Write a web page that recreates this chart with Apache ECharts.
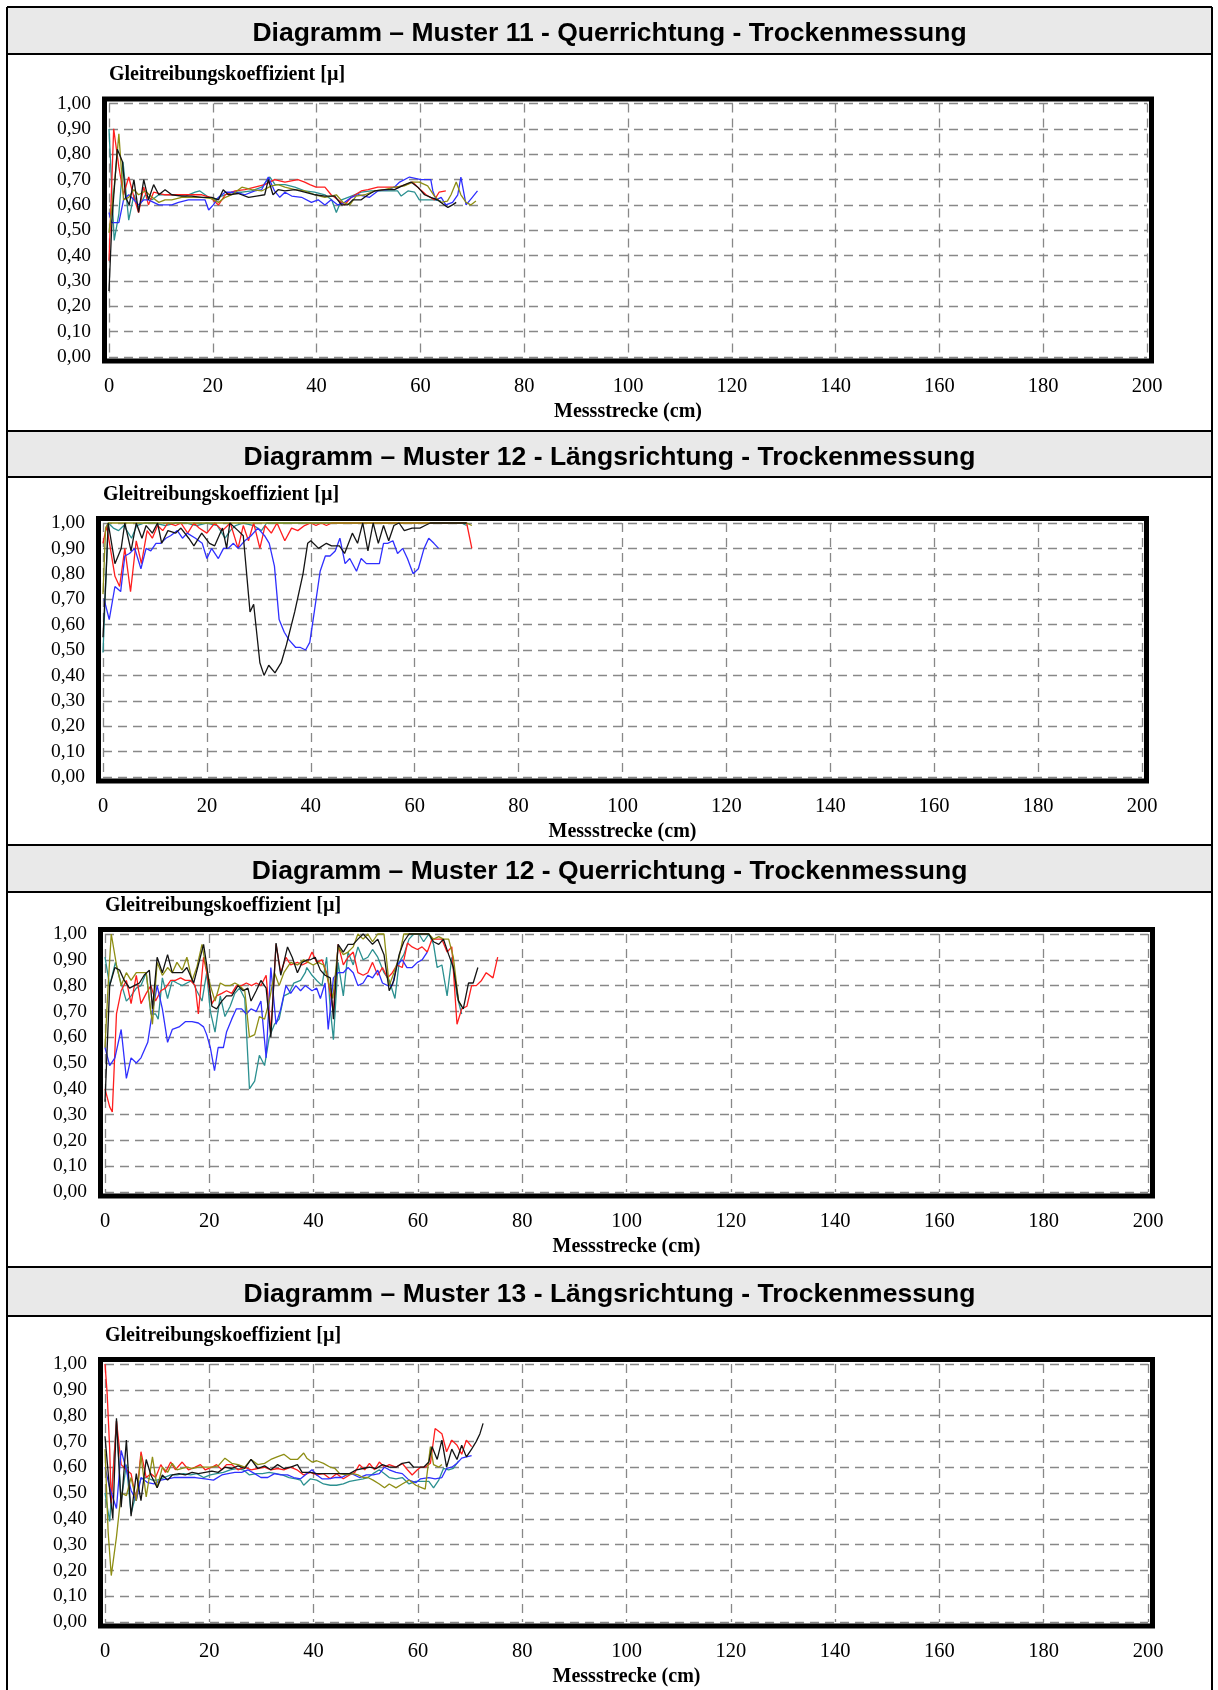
<!DOCTYPE html>
<html><head><meta charset="utf-8">
<script src="https://cdn.jsdelivr.net/npm/echarts@6/dist/echarts.min.js"></script>
<style>html,body{margin:0;padding:0;background:#fff;}#c{width:1218px;height:1690px;}</style>
</head><body><div id="c"></div>
<script>
// ---------- texts / ticks ----------
const panelTitles = [
  'Diagramm – Muster 11 - Querrichtung - Trockenmessung',
  'Diagramm – Muster 12 - Längsrichtung - Trockenmessung',
  'Diagramm – Muster 12 - Querrichtung - Trockenmessung',
  'Diagramm – Muster 13 - Längsrichtung - Trockenmessung'
];
const yAxisName = 'Gleitreibungskoeffizient [µ]';
const xAxisName = 'Messstrecke (cm)';
const xTickLabels = ['0','20','40','60','80','100','120','140','160','180','200'];
const yTickLabels = ['0,00','0,10','0,20','0,30','0,40','0,50','0,60','0,70','0,80','0,90','1,00'];
const measureNames = ['Messung 1','Messung 2','Messung 3','Messung 4','Messung 5'];

// ---------- data: [Messstrecke cm, µ] ----------
// Muster 11 Querrichtung
const m11q_red = [[0,0.38],[0.9,0.90],[1.9,0.75],[2.8,0.64],[3.8,0.71],[4.8,0.63],[5.7,0.57],[6.7,0.67],[7.6,0.60],[8.6,0.65],[10.8,0.64],[13.4,0.64],[16,0.64],[17.9,0.64],[19.5,0.63],[21.1,0.60],[22.4,0.64],[24.3,0.655],[26.2,0.66],[28.1,0.67],[30,0.68],[31.9,0.70],[33.9,0.69],[36.4,0.70],[37.7,0.69],[38.7,0.68],[39.9,0.67],[41.6,0.67],[42.8,0.64],[44.1,0.62],[45.4,0.60],[46.7,0.63],[48.6,0.655],[49.9,0.66],[51.8,0.67],[53.7,0.67],[55.6,0.67],[57.2,0.68],[58.5,0.69],[59.5,0.67],[61.1,0.64],[62.7,0.62],[63.6,0.65],[64.9,0.655]];
const m11q_blue = [[0,0.57],[0.5,0.53],[1.9,0.53],[2.8,0.62],[3.8,0.64],[4.8,0.62],[5.7,0.60],[6.7,0.62],[7.6,0.62],[8.6,0.61],[9.6,0.60],[10.8,0.60],[12.1,0.60],[13.4,0.61],[15.3,0.62],[17.2,0.62],[18.5,0.62],[19.2,0.58],[20.1,0.60],[21.1,0.63],[22.4,0.65],[24.3,0.65],[26.2,0.64],[28.1,0.655],[29.4,0.66],[30.7,0.71],[31.9,0.655],[32.9,0.63],[33.9,0.65],[35.2,0.635],[37.1,0.63],[39,0.61],[40.3,0.62],[41.6,0.60],[42.8,0.62],[44.1,0.60],[45.4,0.61],[46.7,0.63],[48,0.64],[49.2,0.635],[50.2,0.63],[51.8,0.655],[53.7,0.66],[55,0.67],[56,0.69],[57.9,0.71],[60.1,0.70],[62,0.70],[62.4,0.655],[63,0.62],[64,0.63],[64.9,0.60],[66.2,0.61],[67.2,0.64],[67.8,0.71],[68.8,0.60],[70,0.63],[71,0.655]];
const m11q_black = [[0,0.26],[0.6,0.55],[1.6,0.82],[2.6,0.77],[3.2,0.63],[3.9,0.60],[4.8,0.70],[5.7,0.57],[6.7,0.70],[7.6,0.62],[8.6,0.68],[9.6,0.64],[10.8,0.66],[12.1,0.64],[14,0.635],[15.9,0.635],[17.9,0.63],[19.8,0.63],[21.1,0.62],[22,0.66],[23,0.64],[24.9,0.645],[26.9,0.63],[28.4,0.635],[30,0.64],[30.7,0.70],[31.6,0.64],[32.6,0.66],[33.9,0.655],[35.8,0.66],[37.7,0.65],[39.7,0.64],[41.6,0.635],[43.5,0.635],[44.8,0.60],[46,0.60],[47,0.62],[48.6,0.62],[49.9,0.64],[51.2,0.655],[53.1,0.66],[55,0.66],[57,0.68],[58.2,0.69],[59.5,0.67],[60.8,0.64],[62,0.63],[63.3,0.62],[64.6,0.60],[65.3,0.59],[66.2,0.60],[66.9,0.61]];
const m11q_teal = [[0,0.90],[1,0.46],[1.9,0.565],[2.7,0.77],[3.8,0.54],[4.8,0.64],[5.7,0.59],[7,0.64],[8.3,0.62],[9.6,0.64],[10.8,0.64],[12.8,0.64],[14.7,0.635],[16.6,0.65],[17.5,0.655],[19.2,0.63],[20.4,0.62],[21.7,0.635],[23.7,0.65],[25.6,0.65],[27.5,0.655],[29.4,0.67],[31,0.71],[32,0.68],[33.9,0.68],[35.8,0.67],[37.7,0.655],[39.6,0.65],[41.6,0.64],[42.9,0.62],[43.8,0.57],[44.8,0.62],[46.7,0.635],[48.6,0.65],[50.5,0.655],[52.4,0.655],[54.4,0.655],[55.6,0.655],[56.3,0.635],[57.6,0.655],[58.9,0.65],[59.8,0.62],[61.4,0.62],[62.7,0.62],[64,0.615]];
const m11q_olive = [[0,0.49],[1,0.67],[1.9,0.88],[2.8,0.62],[3.8,0.63],[4.8,0.66],[5.7,0.64],[7,0.655],[8.3,0.63],[9.6,0.61],[10.8,0.62],[12.1,0.62],[14,0.63],[15.9,0.63],[17.9,0.63],[19.8,0.625],[21.1,0.61],[22.4,0.63],[23.7,0.64],[25.6,0.67],[27.5,0.66],[29.4,0.655],[31.3,0.675],[32.6,0.68],[33.9,0.67],[35.8,0.66],[37.7,0.655],[39.7,0.64],[41.6,0.63],[42.8,0.635],[43.8,0.64],[45.1,0.61],[46.4,0.60],[47.6,0.635],[49.3,0.64],[51.2,0.655],[53.1,0.66],[55,0.67],[56.9,0.675],[58.5,0.69],[59.8,0.69],[61.4,0.675],[62.7,0.635],[63.9,0.61],[65.2,0.615],[65.9,0.64],[66.9,0.69],[67.8,0.64],[68.8,0.61],[69.7,0.60],[70.7,0.615]];

// Muster 12 Längsrichtung
const m12l_red = [[0,0.92],[0.7,0.99],[2.3,0.79],[3.2,0.75],[4.2,0.90],[5.3,0.73],[6.4,0.93],[7.4,0.84],[8.5,0.97],[9.5,0.94],[10.5,0.99],[11.5,0.97],[12.5,1.0],[14,0.99],[15,1.0],[16.3,0.96],[17.5,1.0],[18.5,0.98],[20,0.96],[21.5,1.0],[23,0.97],[24.5,1.0],[26,0.90],[27,0.99],[28,0.93],[29,1.0],[30.2,0.90],[31.2,0.99],[32.4,0.96],[33.5,1.0],[35,0.93],[36.3,0.98],[37.5,0.97],[38.8,0.99],[40,1.0],[41,0.99],[42,1.0],[43,0.99],[44,1.0],[50,1.0],[60,1.0],[65,1.0],[70,1.0],[71,0.90]];
const m12l_blue = [[0.2,0.70],[1.2,0.62],[2.3,0.75],[3.4,0.73],[4.2,0.87],[5.1,0.88],[6.1,0.90],[7.3,0.82],[8.3,0.90],[9.2,0.89],[10.2,0.92],[11.1,0.92],[12.1,0.94],[13,0.95],[14.3,0.97],[15.3,0.94],[16.2,0.96],[17.8,0.94],[19.1,0.92],[20,0.86],[20.9,0.90],[22.2,0.86],[23.2,0.90],[24.1,0.90],[25.1,0.92],[26,0.90],[27.3,0.93],[28.5,0.95],[29.8,0.98],[31.1,0.95],[32,0.92],[33,0.83],[33.9,0.62],[34.9,0.57],[35.8,0.54],[37.1,0.51],[38,0.51],[39,0.50],[39.8,0.53],[40.6,0.64],[41.8,0.81],[42.8,0.87],[43.7,0.87],[44.7,0.89],[45.6,0.94],[46.6,0.84],[47.5,0.86],[48.8,0.81],[49.7,0.86],[50.7,0.84],[52,0.84],[53.2,0.84],[54,0.92],[54.8,0.92],[55.8,0.93],[56.7,0.88],[57.7,0.90],[58.6,0.86],[59.7,0.80],[60.7,0.82],[61.8,0.90],[62.7,0.94],[63.7,0.92],[64.6,0.90]];
const m12l_black = [[0,0.55],[0.6,0.80],[1,1.0],[2.3,0.84],[3.5,0.90],[4.2,1.0],[5.4,0.89],[6.4,1.0],[7.5,0.94],[8.3,0.99],[9.5,0.96],[10.5,1.0],[11.3,0.92],[12.5,0.97],[14,0.96],[15,0.98],[16.5,0.94],[17.5,0.91],[19,0.96],[20.5,0.92],[21.5,0.91],[23,0.98],[23.8,0.90],[24.4,1.0],[26,0.97],[27,0.95],[28.3,0.65],[29,0.68],[30.2,0.45],[31,0.40],[31.9,0.44],[33.1,0.41],[34.3,0.45],[35.3,0.52],[36.9,0.65],[38.5,0.80],[39.4,0.92],[40,0.93],[41.5,0.90],[43,0.92],[44,0.91],[45.5,0.91],[46.5,0.88],[48,0.96],[49,0.92],[50,1.0],[51,0.89],[52,1.0],[53,0.92],[54,0.99],[55,0.93],[56,0.99],[57,1.0],[58,0.97],[59.5,0.98],[61,0.98],[62,0.99],[63,1.0],[66,1.0],[70,1.0]];
const m12l_teal = [[0,0.49],[0.6,0.80],[1,1.0],[2,0.98],[3,0.97],[4,0.99],[5.5,0.94],[6.5,0.99],[8,1.0],[10,1.0],[12,0.99],[14,1.0],[16,1.0],[18,0.99],[20,1.0],[22,0.99],[23.5,0.94],[24.5,0.97],[25.5,0.99],[27,1.0],[29,0.99],[30.5,0.97],[31.5,1.0],[35,1.0],[40,1.0],[45,1.0],[50,1.0],[55,1.0],[60,1.0],[65,1.0],[69,1.0],[70,0.99]];
const m12l_olive = [[0,0.72],[0.5,0.98],[1,1.0],[10,1.0],[20,1.0],[30,1.0],[40,1.0],[50,1.0],[60,1.0],[70,1.0],[71,0.99]];

// Muster 12 Querrichtung
const m12q_red = [[0,0.40],[0.9,0.33],[1.4,0.31],[2.2,0.69],[3.1,0.78],[4.1,0.82],[5,0.73],[6,0.84],[6.9,0.73],[7.9,0.77],[8.8,0.80],[9.7,0.74],[10.7,0.78],[11.6,0.79],[12.6,0.82],[13.5,0.82],[14.5,0.83],[15.4,0.82],[16.4,0.82],[17.3,0.80],[17.9,0.69],[18.9,0.91],[19.5,0.85],[20.5,0.73],[21.4,0.76],[22.4,0.77],[23.3,0.78],[24.3,0.77],[25.2,0.80],[26.2,0.80],[27.1,0.81],[28.1,0.80],[29,0.81],[29.9,0.80],[30.9,0.84],[31.8,0.62],[32.8,0.96],[33.7,0.85],[34.7,0.91],[35.6,0.88],[36.9,0.89],[37.8,0.88],[38.8,0.89],[39.7,0.93],[40.6,0.89],[41.6,0.90],[42.5,0.85],[43.8,0.70],[44.7,0.96],[45.7,0.88],[46.6,0.91],[47.6,0.93],[48.5,0.85],[49.5,0.84],[50.4,0.85],[51.3,0.89],[52.3,0.84],[53.2,0.87],[54.2,0.83],[55.1,0.85],[56,0.88],[57,0.87],[58,0.965],[58.9,0.95],[59.9,0.94],[60.8,0.95],[61.8,0.93],[62.7,0.98],[63.7,0.98],[64.6,0.98],[65.6,0.93],[66.5,0.95],[67.5,0.65],[68.4,0.71],[69.4,0.72],[70.3,0.80],[71.2,0.80],[72.2,0.82],[73.1,0.85],[74.4,0.83],[75.3,0.91]];
const m12q_blue = [[0,0.56],[0.9,0.49],[1.9,0.52],[3.1,0.63],[4.1,0.44],[5,0.52],[6,0.50],[6.9,0.52],[8.2,0.58],[9.1,0.70],[10,0.80],[11,0.71],[12,0.58],[12.9,0.63],[14.2,0.64],[15.4,0.66],[16.7,0.66],[17.9,0.655],[18.9,0.64],[19.5,0.61],[20.2,0.56],[21,0.47],[21.7,0.56],[22.7,0.56],[23.3,0.62],[24.3,0.67],[25.2,0.71],[26.2,0.71],[27.1,0.69],[28,0.71],[29,0.70],[29.9,0.74],[30.9,0.52],[31.8,0.87],[32.8,0.65],[33.7,0.71],[34.7,0.80],[35.6,0.77],[36.6,0.80],[37.5,0.78],[38.4,0.80],[39.7,0.78],[40.6,0.79],[41.3,0.75],[42.2,0.81],[42.8,0.63],[43.8,0.83],[44.7,0.85],[45.7,0.85],[46.6,0.87],[47.6,0.85],[48.5,0.80],[49.5,0.81],[50.4,0.84],[51.3,0.83],[52.3,0.86],[53.2,0.81],[54.2,0.80],[55.1,0.80],[56,0.88],[57,0.90],[57.9,0.87],[58.9,0.87],[59.9,0.89],[60.8,0.90],[61.8,0.93]];
const m12q_black = [[0,0.35],[0.9,0.80],[1.9,0.87],[2.8,0.86],[3.7,0.82],[4.7,0.79],[5.6,0.80],[6.6,0.81],[7.5,0.84],[8.5,0.86],[9.1,0.71],[10,0.91],[11,0.85],[12,0.92],[12.9,0.85],[13.8,0.85],[14.8,0.85],[15.7,0.87],[17,0.81],[17.9,0.88],[18.9,0.96],[19.5,0.88],[20.5,0.72],[21.4,0.71],[22.4,0.74],[23.3,0.76],[24.3,0.76],[25.5,0.80],[26.5,0.78],[27.4,0.79],[28,0.74],[29,0.78],[29.9,0.82],[30.9,0.79],[31.8,0.60],[32.8,0.965],[33.7,0.84],[35,0.95],[35.9,0.91],[36.9,0.85],[37.8,0.89],[38.8,0.90],[39.4,0.90],[40.3,0.91],[41.3,0.86],[42.2,0.84],[43.2,0.83],[43.8,0.67],[44.7,0.96],[45.7,0.93],[46.6,0.96],[47.6,0.96],[48.5,0.98],[49.5,1.0],[50.4,0.98],[51.3,0.96],[52.3,0.98],[53.5,0.92],[54.5,0.78],[55.4,0.82],[56.4,0.92],[57.3,0.97],[58.3,1.0],[59.2,1.0],[60.2,1.0],[61.1,1.0],[62.1,1.0],[63,0.97],[64,0.96],[64.9,0.98],[65.9,0.92],[66.8,0.87],[67.8,0.74],[68.7,0.71],[69.7,0.81],[70.6,0.81],[71.5,0.87]];
const m12q_teal = [[0,0.91],[0.9,0.80],[2,0.89],[2.8,0.83],[4.1,0.74],[5,0.76],[6,0.79],[6.9,0.80],[7.9,0.85],[8.8,0.69],[9.7,0.69],[10.2,0.67],[11,0.83],[12,0.75],[12.9,0.82],[13.8,0.81],[14.8,0.80],[15.7,0.81],[16.7,0.82],[17.6,0.78],[18.6,0.74],[19.5,0.85],[20.2,0.70],[21.1,0.62],[22.1,0.76],[23,0.68],[24,0.72],[24.9,0.77],[25.8,0.79],[26.8,0.75],[27.7,0.40],[28.7,0.43],[29.6,0.53],[30.6,0.49],[31.5,0.60],[32.5,0.65],[33.4,0.67],[34.3,0.76],[35.3,0.77],[36.2,0.81],[37.5,0.82],[38.4,0.85],[38.7,0.87],[39.7,0.84],[40.6,0.82],[41.6,0.80],[42.5,0.91],[43.2,0.71],[43.8,0.59],[44.7,0.89],[45.7,0.76],[46.6,0.93],[47.6,0.88],[48.5,0.95],[49.5,0.90],[50.4,0.91],[51.3,0.94],[52.3,0.91],[53.5,0.85],[54.5,0.82],[55.6,0.75],[56.4,0.89],[57.3,0.92],[58.3,0.98],[59.2,1.0],[60.2,1.0],[61.1,0.97],[62.1,1.0],[63,0.96],[63.7,0.87],[64.6,0.88],[65.6,0.76],[66.5,0.91],[67.5,0.76],[68.4,0.69]];
const m12q_olive = [[0,0.56],[0.6,0.80],[1.2,1.0],[2.2,0.88],[3.1,0.80],[4.1,0.85],[5,0.82],[6,0.85],[6.9,0.85],[7.9,0.85],[9.1,0.65],[10,0.89],[11,0.84],[12,0.87],[12.9,0.85],[13.8,0.89],[14.8,0.86],[15.7,0.91],[16.7,0.82],[17.6,0.87],[18.6,0.96],[19.2,0.89],[20.2,0.80],[21.1,0.74],[22.1,0.81],[23,0.80],[24,0.80],[24.9,0.81],[25.8,0.80],[26.8,0.78],[27.7,0.60],[28.7,0.61],[29.6,0.68],[30.6,0.67],[31.5,0.74],[32.5,0.85],[33.4,0.80],[34.3,0.85],[35.6,0.89],[36.9,0.88],[38.1,0.90],[39,0.89],[39.9,0.88],[40.9,0.89],[41.9,0.88],[42.8,0.82],[43.7,0.75],[44.7,0.95],[45.7,0.92],[46.6,0.93],[47.6,0.95],[48.5,1.0],[49.5,0.98],[50.4,1.0],[51.3,0.97],[52.3,1.0],[53.5,1.0],[54.5,0.80],[55.4,0.85],[56.4,0.91],[57.3,1.0],[58.3,1.0],[60.2,1.0],[62.1,1.0],[63,0.98],[64,0.99],[64.9,0.98],[65.9,0.98],[66.8,0.91],[67.8,0.74],[68.4,0.72]];

// Muster 13 Längsrichtung
const m13l_red = [[0,1.0],[0.4,0.89],[0.9,0.67],[1.2,0.46],[2.2,0.78],[3.1,0.61],[4.1,0.59],[5,0.575],[6,0.47],[6.9,0.66],[7.9,0.56],[8.8,0.575],[9.7,0.56],[10.7,0.61],[11.6,0.58],[12.6,0.62],[13.5,0.59],[14.8,0.62],[16,0.59],[17.3,0.60],[18.3,0.61],[19.2,0.59],[20.5,0.60],[21.4,0.61],[22.4,0.59],[23.3,0.61],[24.3,0.61],[25.5,0.59],[26.8,0.60],[28,0.59],[29.3,0.595],[30.6,0.60],[31.8,0.59],[33.1,0.595],[34.3,0.59],[35.6,0.60],[36.8,0.59],[38.1,0.57],[39.4,0.58],[40.6,0.57],[41.9,0.575],[43.2,0.555],[44.4,0.575],[45.7,0.555],[46.9,0.57],[47.9,0.58],[48.8,0.61],[49.8,0.59],[50.7,0.615],[51.7,0.59],[52.6,0.62],[53.6,0.60],[54.5,0.61],[55.8,0.60],[57,0.615],[58,0.59],[58.9,0.57],[59.9,0.59],[60.5,0.60],[61.4,0.60],[62.4,0.615],[63.3,0.75],[64.6,0.73],[65.5,0.66],[66.5,0.705],[67.5,0.685],[68.4,0.65],[69.3,0.705],[70.3,0.68]];
const m13l_blue = [[0,0.60],[0.9,0.52],[2.2,0.44],[3.1,0.665],[4.1,0.59],[5,0.51],[6,0.47],[6.9,0.56],[8.2,0.54],[9.4,0.535],[10.7,0.55],[12,0.555],[13.2,0.56],[14.5,0.56],[15.7,0.56],[17.3,0.56],[19.2,0.555],[20.8,0.55],[22.4,0.57],[23.6,0.575],[24.9,0.58],[26.2,0.58],[27.4,0.59],[28.7,0.575],[29.9,0.56],[31.2,0.56],[32.5,0.575],[33.7,0.57],[35,0.57],[36.2,0.56],[37.5,0.555],[38.7,0.575],[39.7,0.59],[40.6,0.57],[41.6,0.555],[42.8,0.555],[44.1,0.56],[45.4,0.56],[46.3,0.57],[47.3,0.575],[48.8,0.56],[50.1,0.57],[51.4,0.57],[52.6,0.575],[53.6,0.60],[54.5,0.59],[55.8,0.58],[57,0.575],[58.3,0.55],[59.6,0.54],[60.5,0.555],[62.1,0.56],[63.3,0.555],[64.6,0.56],[65.5,0.595],[66.5,0.60],[67.5,0.615],[68.4,0.635],[69.3,0.64],[70.3,0.645]];
const m13l_black = [[0,0.72],[0.9,0.51],[1.5,0.40],[2.2,0.79],[3.1,0.445],[4.1,0.705],[5,0.41],[6,0.575],[6.9,0.47],[7.9,0.63],[8.8,0.57],[10,0.52],[11,0.57],[12,0.55],[12.9,0.57],[14.2,0.575],[15.4,0.57],[16.7,0.58],[17.9,0.575],[19.2,0.58],[20.5,0.585],[21.7,0.58],[23,0.60],[24.3,0.595],[25.5,0.605],[26.8,0.595],[28,0.63],[29.3,0.595],[30.6,0.605],[31.8,0.59],[33.1,0.61],[34.3,0.595],[35.6,0.60],[36.9,0.61],[37.8,0.58],[39.4,0.58],[40.6,0.575],[41.9,0.575],[43.2,0.575],[44.4,0.575],[45.7,0.575],[46.9,0.575],[48.2,0.59],[49.5,0.595],[50.7,0.60],[52,0.595],[53.2,0.61],[54.5,0.60],[55.8,0.60],[57,0.615],[58.3,0.62],[59.2,0.60],[60.2,0.60],[61.1,0.60],[62.1,0.62],[62.7,0.68],[63.7,0.63],[64.6,0.705],[65.5,0.60],[66.5,0.67],[67.5,0.63],[68.4,0.685],[69.3,0.64],[70.3,0.67],[71.2,0.70],[71.9,0.73],[72.5,0.77]];
const m13l_teal = [[0,0.50],[0.9,0.39],[2.2,0.78],[3.1,0.47],[4.1,0.61],[5,0.42],[6,0.50],[6.9,0.555],[7.9,0.56],[9.1,0.55],[10,0.55],[11.3,0.56],[12.6,0.57],[13.8,0.57],[15.1,0.575],[16.4,0.57],[17.6,0.575],[18.9,0.56],[20.2,0.57],[21.4,0.575],[22.7,0.58],[24,0.59],[25.2,0.595],[26.5,0.59],[27.7,0.57],[29,0.575],[30.2,0.575],[31.5,0.58],[32.8,0.575],[34,0.57],[35.3,0.56],[36.6,0.555],[37.5,0.55],[38.1,0.53],[39.4,0.555],[40.6,0.55],[41.9,0.535],[43.2,0.53],[44.4,0.53],[45.7,0.535],[46.9,0.545],[48.2,0.55],[49.5,0.555],[50.4,0.56],[51.4,0.575],[52.6,0.59],[53.6,0.575],[54.5,0.56],[55.8,0.555],[57,0.56],[58.3,0.535],[59.6,0.545],[60.8,0.545],[62.1,0.545],[63,0.52],[64,0.55],[64.9,0.595],[65.9,0.59],[66.8,0.595],[67.8,0.625]];
const m13l_olive = [[0,0.67],[0.6,0.35],[1.2,0.18],[2.2,0.33],[3.1,0.50],[4.1,0.49],[5,0.56],[6,0.47],[6.9,0.645],[7.9,0.485],[9.1,0.64],[10,0.52],[11,0.60],[12,0.58],[12.9,0.615],[13.8,0.59],[14.8,0.595],[15.7,0.60],[16.7,0.595],[17.9,0.60],[19.2,0.60],[20.5,0.60],[21.7,0.605],[23,0.635],[24.3,0.615],[25.5,0.61],[26.8,0.60],[28,0.63],[29.3,0.61],[30.6,0.615],[31.8,0.63],[33,0.64],[34.3,0.65],[35.6,0.63],[36.9,0.63],[38.1,0.655],[38.7,0.635],[39.7,0.62],[40.6,0.625],[41.9,0.615],[43.2,0.60],[44.1,0.595],[45,0.575],[46.3,0.57],[47.6,0.575],[48.5,0.57],[49.5,0.56],[50.4,0.56],[51.4,0.55],[52.6,0.535],[53.6,0.52],[54.5,0.535],[55.8,0.52],[57,0.535],[58.3,0.55],[59.6,0.53],[60.8,0.52],[61.4,0.515],[62.4,0.68],[63,0.61],[64,0.60],[64.6,0.61]];

const chartData = [
  [m11q_teal, m11q_red, m11q_blue, m11q_olive, m11q_black],
  [m12l_teal, m12l_red, m12l_blue, m12l_olive, m12l_black],
  [m12q_teal, m12q_red, m12q_blue, m12q_olive, m12q_black],
  [m13l_teal, m13l_red, m13l_blue, m13l_olive, m13l_black]
];
const lineColors = ['#2b9090', '#ff1e1e', '#2f2fff', '#8e8e14', '#141414'];

// ---------- layout (pixels) ----------
const PAGE_L = 7, PAGE_R = 1212;
const panels = [
  {top: 7,    barBottom: 54,   grid: {left: 109, top: 103.5, width: 1038, height: 253.5}},
  {top: 431,  barBottom: 477,  grid: {left: 103, top: 523,   width: 1039, height: 254}},
  {top: 845,  barBottom: 892,  grid: {left: 105, top: 934,   width: 1043, height: 258}},
  {top: 1267, barBottom: 1316, grid: {left: 105, top: 1364,  width: 1043, height: 258}}
];

const serif = '"Liberation Serif","Times New Roman",serif';
const sans = '"Liberation Sans",Arial,sans-serif';

const grids = [], xAxes = [], yAxes = [], series = [], graphics = [];

// page borders
graphics.push({type:'line', shape:{x1:PAGE_L, y1:PAGE_L, x2:PAGE_L, y2:1690}, style:{stroke:'#000', lineWidth:2}, z:10});
graphics.push({type:'line', shape:{x1:PAGE_R, y1:PAGE_L, x2:PAGE_R, y2:1690}, style:{stroke:'#000', lineWidth:2}, z:10});

panels.forEach((p, i) => {
  // title bar
  graphics.push({type:'rect', shape:{x:PAGE_L, y:p.top, width:PAGE_R-PAGE_L, height:p.barBottom-p.top}, style:{fill:'#e9e9e9'}, z:1});
  graphics.push({type:'line', shape:{x1:PAGE_L, y1:p.top, x2:PAGE_R, y2:p.top}, style:{stroke:'#000', lineWidth:2}, z:10});
  graphics.push({type:'line', shape:{x1:PAGE_L, y1:p.barBottom, x2:PAGE_R, y2:p.barBottom}, style:{stroke:'#000', lineWidth:2}, z:10});
  graphics.push({type:'text', x:(PAGE_L+PAGE_R)/2, y:(p.top+p.barBottom)/2 + 3.5,
    style:{text:panelTitles[i], font:'bold 26.5px ' + sans, fill:'#000', align:'center', verticalAlign:'middle'}, z:11});
  // thick plot frame
  const g = p.grid;
  graphics.push({type:'rect', shape:{x:g.left-4.5, y:g.top-4.5, width:g.width+9, height:g.height+8.5},
    style:{fill:'none', stroke:'#000', lineWidth:5}, z:20});

  grids.push({left:g.left, top:g.top, width:g.width, height:g.height, containLabel:false});
  xAxes.push({
    type:'value', gridIndex:i, min:0, max:200, interval:20,
    axisLine:{show:false}, axisTick:{show:false},
    axisLabel:{margin:19, fontFamily:serif, fontSize:20.5, color:'#000',
      formatter:(v)=> xTickLabels[Math.round(v/20)]},
    splitLine:{show:true, lineStyle:{color:'#888888', width:1.3, type:[9,6]}},
    name:xAxisName, nameLocation:'middle', nameGap:55,
    nameTextStyle:{fontFamily:serif, fontWeight:'bold', fontSize:20, color:'#000', verticalAlign:'middle'}
  });
  yAxes.push({
    type:'value', gridIndex:i, min:0, max:1, interval:0.1,
    axisLine:{show:false}, axisTick:{show:false},
    axisLabel:{margin:18, fontFamily:serif, fontSize:19.5, color:'#000',
      formatter:(v)=> yTickLabels[Math.round(v*10)]},
    splitLine:{show:true, lineStyle:{color:'#888888', width:1.3, type:[9,6]}},
    name:yAxisName, nameLocation:'end', nameGap:28.5,
    nameTextStyle:{fontFamily:serif, fontWeight:'bold', fontSize:20, color:'#000', align:'left', verticalAlign:'middle'}
  });
  chartData[i].forEach((d, k) => {
    series.push({
      type:'line', name:measureNames[k], xAxisIndex:i, yAxisIndex:i,
      data:d, showSymbol:false, symbol:'none', clip:false,
      lineStyle:{color:lineColors[k], width:1.3}, z:5+k, animation:false
    });
  });
});

const chart = echarts.init(document.getElementById('c'), null, {renderer:'canvas', width:1218, height:1690});
chart.setOption({
  backgroundColor:'#ffffff',
  animation:false,
  grid:grids, xAxis:xAxes, yAxis:yAxes, series:series,
  graphic:{elements:graphics}
});
</script>
</body></html>
